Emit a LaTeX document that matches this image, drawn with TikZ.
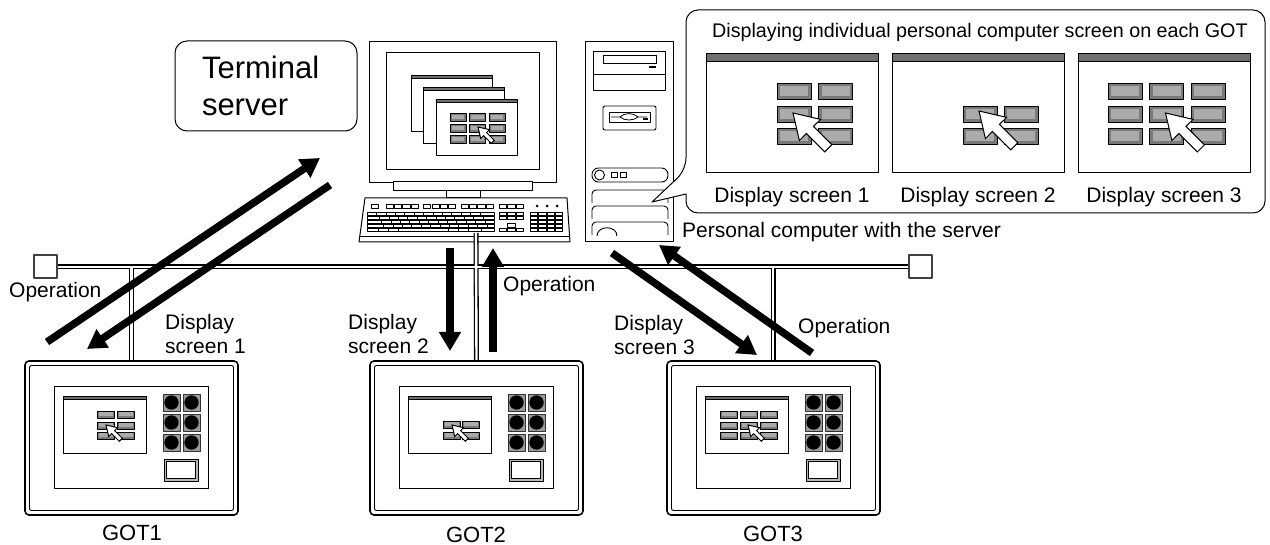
\documentclass[tikz,border=0pt]{standalone}
\usepackage{fontspec}
\setmainfont{Liberation Sans}
\usetikzlibrary{arrows.meta}
\definecolor{barcol}{HTML}{6F6F6F}
\definecolor{btnbody}{HTML}{7A7A7A}
\definecolor{btnface}{HTML}{ABABAB}
\definecolor{padcol}{HTML}{9A9A9A}
% beveled push button: x, y, width, height, bevel
\newcommand\keybtn[5]{%
  \filldraw[fill=btnbody, draw=black, line width=0.7pt] (#1,#2) rectangle (#1+#3,#2+#4);
  \fill[btnface] (#1+#5,#2+#5) rectangle (#1+#3-#5,#2+#4-#5);}
\newcommand\lblfont{\fontsize{21}{24.5}\selectfont}
\begin{document}
\begin{tikzpicture}[x=1pt,y=-1pt,line join=round,
  lbl/.style={font=\lblfont, inner sep=0pt, align=left},
  keyline/.style={draw=black, line width=0.55pt, fill=white},
  bigarrow/.style={line width=7.5pt, -{Triangle[length=19pt,width=21pt]}},
  netouter/.style={line width=5pt, draw=black},
  netinner/.style={line width=2.4pt, draw=white},
  gotframe/.style={draw=black, line width=1.6pt, rounded corners=4pt, fill=white,
    minimum width=213, minimum height=154, inner sep=0pt},
  hub/.style={draw=black!75, line width=1.4pt, fill=white, minimum size=23, inner sep=0pt},
  mousearrow/.pic={\filldraw[fill=white, draw=black, line width=1pt, line join=miter]
    (0,0) -- (6.4,27.6) -- (13.4,20.5) -- (31.8,38.9) -- (38.9,31.8)
    -- (20.5,13.4) -- (27.6,6.4) -- cycle;}
]
\useasboundingbox (0,0) rectangle (1270,545);

% ---------- terminal server label ----------
\node[draw, line width=1pt, rounded corners=12pt, minimum width=182, minimum height=90,
  inner sep=0pt, text width=128, align=left, font=\fontsize{31}{37}\selectfont]
  (term) at (266,86) {Terminal\\server};

% ---------- monitor ----------
\node[draw, line width=1pt, fill=white, minimum width=187, minimum height=141,
  inner sep=0pt, anchor=north west] (monitor) at (369,41) {};
\draw[line width=1pt] (386,53) rectangle (539,170);
\foreach \wx/\wy in {411/75, 423/87, 436/99} {
  \filldraw[fill=white, draw=black, line width=0.8pt] (\wx,\wy) rectangle ++(81,56);
  \filldraw[fill=barcol, draw=black, line width=0.6pt] (\wx,\wy) rectangle ++(81,3.5);
}
\foreach \c in {450,469.5,489} \foreach \r in {113,124,135} {\keybtn{\c}{\r}{16}{8}{1.6}}
\pic[scale=0.42] at (478,127) {mousearrow};
\draw[line width=1pt, fill=white] (393,182) rectangle (532,191);
\draw[line width=1pt, fill=white] (446,191) rectangle (480,198);

% ---------- keyboard ----------
\draw[line width=1pt, fill=white] (365,198) -- (567,198) -- (570,242) -- (359,242) -- cycle;
\draw[line width=0.8pt] (360,236.5) -- (569.5,236.5);
\draw[keyline] (371,204) rectangle (378,208);
\foreach \gx in {386,423.5,461} \foreach \k in {0,...,3}
  \draw[keyline] (\gx+8.3*\k,204) rectangle ++(7.2,4);
\foreach \k in {0,1,2} \draw[keyline] (499+8.5*\k,204) rectangle ++(7.5,4);
\foreach \cx in {537,547,557} \fill (\cx,206) circle (1.5pt);
\foreach \o [count=\r from 0] in {0,3,5,7} {
  \draw[keyline] (367,212+4*\r) rectangle (494,215.4+4*\r);
  \foreach \k in {1,...,12} \draw[line width=0.55pt] (367+\o+9.4*\k,212+4*\r) -- ++(0,3.4);
}
\draw[keyline] (367,228) rectangle (494,231.4);
\foreach \dx in {378,388,398,448,458,468,481} \draw[line width=0.55pt] (\dx,228) -- ++(0,3.4);
\foreach \r in {0,1} \foreach \k in {0,1,2} \draw[keyline] (499+8.5*\k,212+4*\r) rectangle ++(7.5,3.4);
\draw[keyline] (507.5,223.5) rectangle ++(7.5,3.4);
\foreach \k in {0,1,2} \draw[keyline] (499+8.5*\k,228) rectangle ++(7.5,3.4);
\foreach \r in {0,...,4} \foreach \k in {0,...,3} \draw[keyline] (530+8.4*\k,212+4*\r) rectangle ++(7.4,3.4);
\coordinate (kbcable) at (476,233);

% ---------- server tower ----------
\node[draw, line width=1pt, fill=white, minimum width=88, minimum height=200,
  inner sep=0pt, anchor=north west] (pc) at (585,41) {};
\draw[line width=0.9pt] (593,51) rectangle (665,90);
\draw[line width=0.8pt] (593,74) -- (665,74);
\draw[line width=0.8pt] (603,55) rectangle (656,63);
\fill (649,66) rectangle (656,68.5);
\draw[line width=0.9pt, rounded corners=2pt] (603,106) rectangle (656,130);
\draw[line width=0.8pt] (609,112) rectangle (650,122);
\draw[line width=0.8pt] (611,117) -- (620,117) .. controls (624,112.5) and (634,112.5) .. (638,117) -- (647,117);
\draw[line width=0.8pt] (620,117) .. controls (624,121) and (634,121) .. (638,117);
\fill (643,118) rectangle (648,120.5);
\draw[line width=0.9pt, rounded corners=6.5pt] (592,168) rectangle (668,182);
\draw[line width=0.9pt] (599.5,175) circle (5pt);
\draw[line width=0.8pt] (611,172.5) rectangle (617.5,177);
\draw[line width=0.8pt] (620,172.5) rectangle (626.5,177);
\foreach \by in {190,206,222}
  \draw[line width=0.9pt, rounded corners=4pt] (592,\by+13) -- (592,\by) -- (668,\by) -- (668,\by+13);
\draw[line width=0.9pt] (597,236) .. controls (597,225) and (617,225) .. (617,236);
\node[lbl, anchor=base west] (pclabel) at (682,238) {Personal computer with the server};

% ---------- callout with the three screens ----------
\draw[line width=1pt, fill=white] (900,213) [rounded corners=12pt] -- (1265,213) -- (1265,10)
  -- (686,10) -- (686,170) [sharp corners] -- (652,202) -- (686,194)
  [rounded corners=12pt] -- (686,213) -- cycle;
\node[font=\fontsize{19.7}{22}\selectfont, inner sep=0pt, anchor=base west] (ctitle)
  at (712,37.3) {Displaying individual personal computer screen on each GOT};
\foreach \sx [count=\i] in {706,892,1078} {
  \node[draw, line width=1pt, fill=white, minimum width=172, minimum height=119,
    inner sep=0pt, anchor=north west] (scr\i) at (\sx,53) {};
  \filldraw[fill=barcol, draw=black, line width=0.7pt] (\sx,53) rectangle ++(172,8);
  \node[lbl, anchor=base] (cap\i) at (\sx+86,203) {Display screen \i};
}
\foreach \c in {777,818.5} \foreach \r in {83,106,128} {\keybtn{\c}{\r}{34}{16}{3}}
\foreach \c in {963,1004} \foreach \r in {106,128} {\keybtn{\c}{\r}{34}{16}{3}}
\foreach \c in {1108,1149.5,1191} \foreach \r in {83,106,128} {\keybtn{\c}{\r}{34}{16}{3}}
\pic at (793,113) {mousearrow};
\pic at (979,111) {mousearrow};
\pic at (1165.5,113) {mousearrow};

% ---------- network ----------
\node[hub] (hubL) at (45.5,266.5) {};
\node[hub] (hubR) at (920.5,266.5) {};
\coordinate (tap1) at (131.5,267);
\coordinate (tap3) at (773,267);
\coordinate (g1top) at (131.5,361);
\coordinate (g2top) at (476.5,361);
\coordinate (g3top) at (773,361);
\foreach \s in {netouter,netinner} {
  \draw[\s] (hubL.east |- tap1) -- (hubR.west |- tap1);
  \draw[\s] (tap1) -- (g1top);
  \draw[\s] (kbcable) -- (g2top);
  \draw[\s] (tap3) -- (g3top);
}

% ---------- GOT units ----------
\foreach \g/\dx in {1/0,2/345,3/642} {
  \begin{scope}[xshift=\dx]
    \node[gotframe] (got\g) at (131.5,438) {};
    \draw[line width=0.9pt, rounded corners=2pt] (29.5,365.5) rectangle (233.5,510.5);
    \draw[line width=1pt] (54,387) rectangle (208,488);
    \filldraw[fill=white, draw=black, line width=0.9pt] (63,396) rectangle (146,453);
    \filldraw[fill=barcol, draw=black, line width=0.6pt] (63,396) rectangle (146,399.5);
    \foreach \c in {163,183} \foreach \r in {394,414,434} {
      \filldraw[fill=padcol, draw=black!80, line width=0.7pt] (\c,\r) rectangle ++(17,17);
      \fill (\c+8.5,\r+8.5) circle (7.2pt);
    }
    \filldraw[fill=gray!55, draw=black, line width=0.9pt] (164,459) rectangle (198,481);
    \filldraw[fill=white, draw=black, line width=0.6pt] (166.5,461.5) rectangle (195.5,478);
  \end{scope}
}
\foreach \c in {97,117} \foreach \r in {411,422,432} {\keybtn{\c}{\r}{17}{7}{1.5}}
\foreach \c in {443,462} \foreach \r in {421,432} {\keybtn{\c}{\r}{17}{7}{1.5}}
\foreach \c in {720,740,760} \foreach \r in {411,422,432} {\keybtn{\c}{\r}{17}{7}{1.5}}
\pic[scale=0.42] at (106,425) {mousearrow};
\pic[scale=0.42] at (452,425) {mousearrow};
\pic[scale=0.42] at (748,425) {mousearrow};
\node[font=\fontsize{22}{24}\selectfont, inner sep=0pt, anchor=base] (lg1) at (132,540) {GOT1};
\node[font=\fontsize{22}{24}\selectfont, inner sep=0pt, anchor=base] (lg2) at (476,542.5) {GOT2};
\node[font=\fontsize{22}{24}\selectfont, inner sep=0pt, anchor=base] (lg3) at (773,541) {GOT3};

% ---------- data flow arrows ----------
\coordinate (op1s) at (47,342);   \coordinate (op1e) at (320,158);
\coordinate (ds1s) at (330,185);  \coordinate (ds1e) at (87,349);
\coordinate (ds2s) at (450,248);  \coordinate (ds2e) at (450,351);
\coordinate (op2s) at (493,352);  \coordinate (op2e) at (493,248);
\coordinate (ds3s) at (612,253);  \coordinate (ds3e) at (757,355);
\coordinate (op3s) at (812,353);  \coordinate (op3e) at (659,245);
\draw[bigarrow] (op1s) -- (op1e);
\draw[bigarrow] (ds1s) -- (ds1e);
\draw[bigarrow] (ds2s) -- (ds2e);
\draw[bigarrow] (op2s) -- (op2e);
\draw[bigarrow] (ds3s) -- (ds3e);
\draw[bigarrow] (op3s) -- (op3e);

% ---------- flow labels (base = baseline of the last line) ----------
\node[lbl, anchor=base west] (lop1) at (9,298) {Operation};
\node[lbl, anchor=base west] (lds1) at (165,354) {Display\\screen 1};
\node[lbl, anchor=base west] (lds2) at (348,354) {Display\\screen 2};
\node[lbl, anchor=base west] (lop2) at (503,292) {Operation};
\node[lbl, anchor=base west] (lds3) at (614,355) {Display\\screen 3};
\node[lbl, anchor=base west] (lop3) at (798,334) {Operation};
\end{tikzpicture}
\end{document}
